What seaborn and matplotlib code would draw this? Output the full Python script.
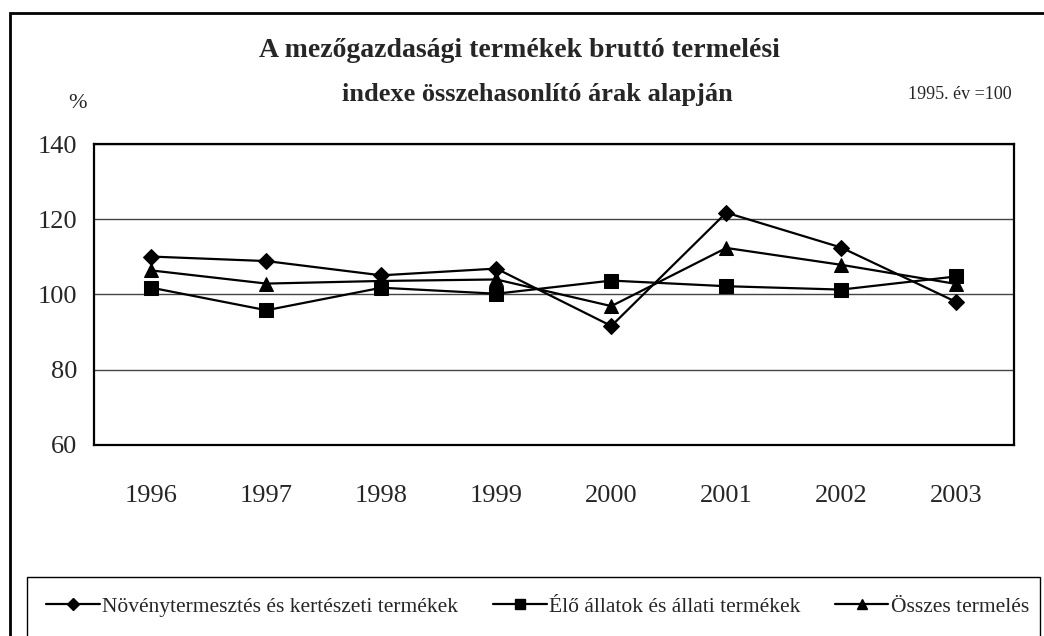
import matplotlib
matplotlib.use("Agg")
import matplotlib.pyplot as plt
import matplotlib.patches as patches
from matplotlib.lines import Line2D
import pandas as pd
import seaborn as sns

# Data
years = ["1996", "1997", "1998", "1999", "2000", "2001", "2002", "2003"]
noveny = [110.1, 108.9, 105.1, 106.9, 91.6, 121.8, 112.5, 98.0]
allat = [101.8, 95.8, 101.8, 100.2, 103.7, 102.2, 101.3, 104.8]
osszes = [106.4, 102.9, 103.6, 104.0, 96.9, 112.4, 107.9, 102.8]
series_names = ["Növénytermesztés és kertészeti termékek",
                "Élő állatok és állati termékek",
                "Összes termelés"]
markers = ["D", "s", "^"]

sns.set_style("white")
plt.rcParams["font.family"] = ["Liberation Serif", "DejaVu Serif"]

df = pd.DataFrame({"year": years * 3,
                   "value": noveny + allat + osszes,
                   "series": [series_names[0]] * 8 + [series_names[1]] * 8 + [series_names[2]] * 8})

fig = plt.figure(figsize=(10.44, 6.36), dpi=100)
ax = fig.add_axes([0.090, 0.301, 0.881, 0.472])

for name, mk in zip(series_names, markers):
    sub = df[df["series"] == name]
    sns.lineplot(data=sub, x="year", y="value", ax=ax, color="black",
                 linewidth=1.6, marker=mk, markersize=9.5 if mk != "D" else 8,
                 markeredgecolor="black", markerfacecolor="black", legend=False)

ax.set_xlim(-0.5, 7.5)
ax.set_ylim(60, 140)
ax.set_yticks([60, 80, 100, 120, 140])
ax.yaxis.grid(True, color="#444444", linewidth=1.0)
ax.set_axisbelow(True)
ax.set_xlabel("")
ax.set_ylabel("")

# category boundary ticks on x axis
ax.set_xticks([i - 0.5 for i in range(9)], minor=True)
ax.tick_params(axis="x", which="major", length=0, pad=29, labelsize=19)
ax.tick_params(axis="x", which="minor", length=8, width=1.2, direction="out", color="black")
ax.tick_params(axis="y", which="major", length=8, width=1.2, direction="out", labelsize=19, pad=4, color="black")
for side in ["left", "right", "top", "bottom"]:
    ax.spines[side].set_color("black")
    ax.spines[side].set_linewidth(1.6)
    ax.spines[side].set_visible(True)

# titles and notes
fig.text(0.498, 0.921, "A mezőgazdasági termékek bruttó termelési",
         ha="center", va="center", fontsize=20, fontweight="bold")
fig.text(0.515, 0.851, "indexe összehasonlító árak alapján",
         ha="center", va="center", fontsize=19, fontweight="bold")
fig.text(0.074, 0.838, "%", ha="center", va="center", fontsize=16)
fig.text(0.969, 0.851, "1995. év =100", ha="right", va="center", fontsize=13)

# outer frame (continues beyond the image on right and bottom)
fig.patches.append(patches.Rectangle((0.0096, -0.2), 1.2, 0.9796 + 0.2,
                                     transform=fig.transFigure, fill=False,
                                     edgecolor="black", linewidth=2.0))
# legend box
fig.patches.append(patches.Rectangle((0.0259, -0.2), 0.9703, 0.0928 + 0.2,
                                     transform=fig.transFigure, fill=False,
                                     edgecolor="black", linewidth=1.0))

handles = [Line2D([0], [0], color="black", linewidth=1.6, marker=mk,
                  markersize=6.5 if mk != "D" else 6) for mk in markers]
fig.legend(handles, series_names, loc="center", bbox_to_anchor=(0.515, 0.046),
           ncol=3, frameon=False, fontsize=15.5, handlelength=2.5,
           handletextpad=0.1, columnspacing=1.6)

fig.savefig("out.png", dpi=100)
